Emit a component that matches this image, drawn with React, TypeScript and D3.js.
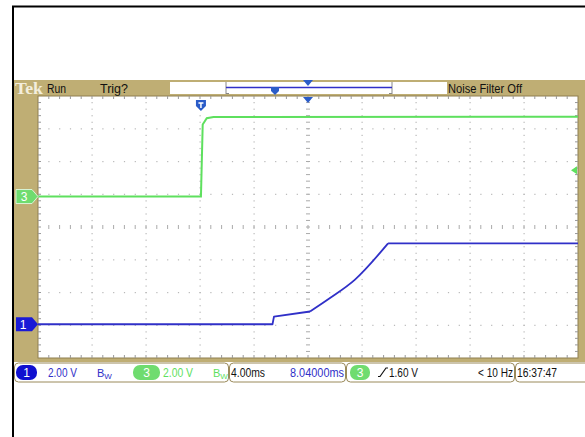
import React from "react";
import * as d3 from "d3";

// ---- data (ms from left screen edge, volts) ----
const ch1Times = [0, 17.37, 17.48, 20.15, 21.63, 23.48, 25.93, 40];
const ch1Volts = [0, 0, 0.47, 0.78, 1.6, 2.73, 4.94, 4.94];
const ch1RampStart = 3; // index where the smooth ramp begins
const ch1RampEnd = 6;   // index where the ramp meets the high level
const ch3Times = [0, 12.07, 12.2, 12.5, 13.0, 40];
const ch3Volts = [0, 0, 4.4, 4.78, 4.86, 4.88];
const ch1OffsetDiv = -2.97;
const ch3OffsetDiv = 0.93;
const voltsPerDiv = 2;
const timeDomain = [0, 40];
const hDivs = 10;
const vDivs = 8;
const trigLevel = 1.6;
const trigTime = 12.07;

const W = 585, H = 437;
const L = 38, R = 578, T = 96, B = 358;
const TAN = "#bfae74";
const BLUE = "#3030c8";
const GREEN = "#5ee05e";
const FONT = "'Liberation Sans Narrow','Liberation Sans',Arial,sans-serif";

const x = d3.scaleLinear().domain(timeDomain).range([L, R]);
const yDiv = d3.scaleLinear().domain([vDivs / 2, -vDivs / 2]).range([T, B]);
const yCh = (off: number) => (v: number) => yDiv(v / voltsPerDiv + off);
const y1 = yCh(ch1OffsetDiv);
const y3 = yCh(ch3OffsetDiv);

const idx1 = ch1Times.map((_, i) => i);
const lin1 = d3.line<number>().x((i) => x(ch1Times[i])).y((i) => y1(ch1Volts[i]));
const mono1 = d3.line<number>().x((i) => x(ch1Times[i])).y((i) => y1(ch1Volts[i])).curve(d3.curveMonotoneX);
const line1a = lin1(idx1.slice(0, ch1RampStart + 1)) || "";
const line1b = mono1(idx1.slice(ch1RampStart, ch1RampEnd + 1)) || "";
const line1c = lin1(idx1.slice(ch1RampEnd)) || "";
const line3 = d3.line<number>().x((_, i) => x(ch3Times[i])).y((v) => y3(v))(ch3Volts) || "";

function Txt(p: { x: number; y: number; w: number; s: string; fill?: string; size?: number }) {
  return (
    <text x={p.x} y={p.y} fontFamily={FONT} fontSize={p.size || 12} fill={p.fill || "#111"}
      textLength={p.w} lengthAdjust="spacingAndGlyphs">{p.s}</text>
  );
}

export default function App() {
  const dx = (R - L) / hDivs;
  const dy = (B - T) / vDivs;
  const grid: JSX.Element[] = [];
  for (let k = 1; k < hDivs; k++) {
    const gx = L + k * dx;
    if (k === hDivs / 2) continue;
    for (let j = 1; j < vDivs * 5; j++) {
      grid.push(<rect key={`vd${k}-${j}`} x={gx - 0.5} y={T + j * dy / 5 - 0.5} width={1.2} height={1.2} fill="#b8b8b8" />);
    }
  }
  for (let k = 1; k < vDivs; k++) {
    const gy = T + k * dy;
    if (k === vDivs / 2) continue;
    for (let j = 1; j < hDivs * 5; j++) {
      grid.push(<rect key={`hd${k}-${j}`} x={L + j * dx / 5 - 0.5} y={gy - 0.5} width={1.2} height={1.2} fill="#b8b8b8" />);
    }
  }
  const cx = L + dx * hDivs / 2, cy = T + dy * vDivs / 2;
  for (let j = 1; j < vDivs * 5; j++) {
    const ty = T + j * dy / 5;
    grid.push(<line key={`cv${j}`} x1={cx - 2} x2={cx + 2} y1={ty} y2={ty} stroke="#aaa" strokeWidth={1} />);
  }
  for (let j = 1; j < hDivs * 5; j++) {
    const tx = L + j * dx / 5;
    grid.push(<line key={`ch${j}`} x1={tx} x2={tx} y1={cy - 2} y2={cy + 2} stroke="#aaa" strokeWidth={1} />);
  }
  for (let j = 1; j < hDivs * 5; j++) {
    const tx = L + j * dx / 5;
    grid.push(<line key={`et${j}`} x1={tx} x2={tx} y1={T} y2={T + 3} stroke="#999" />);
    grid.push(<line key={`eb${j}`} x1={tx} x2={tx} y1={B} y2={B - 3} stroke="#999" />);
  }
  for (let j = 1; j < vDivs * 5; j++) {
    const ty = T + j * dy / 5;
    grid.push(<line key={`el${j}`} x1={L} x2={L + 3} y1={ty} y2={ty} stroke="#999" />);
    grid.push(<line key={`er${j}`} x1={R} x2={R - 3} y1={ty} y2={ty} stroke="#999" />);
  }

  const g3 = y3(0), g1 = y1(0);
  const tl = y3(trigLevel);
  const tx = x(trigTime);

  return (
    <svg width={W} height={H} style={{ position: "absolute", left: 0, top: 0 }}>
      <rect x={0} y={0} width={W} height={H} fill="#fff" />
      <line x1={12} x2={W} y1={6.5} y2={6.5} stroke="#000" strokeWidth={2} />
      <line x1={13} x2={13} y1={6} y2={H} stroke="#000" strokeWidth={2} />
      <rect x={14} y={80} width={W - 14} height={283} fill={TAN} />
      <rect x={L} y={T} width={R - L} height={B - T} fill="#fff" stroke="#8f7f4f" strokeWidth={1} />
      {grid}
      <text x={15} y={94} fontFamily="'Liberation Serif','DejaVu Serif',serif" fontWeight="bold" fontSize={17}
        fill="#f3eedd" textLength={28} lengthAdjust="spacingAndGlyphs">Tek</text>
      <Txt x={47} y={93} w={19} s="Run" />
      <Txt x={100} y={93} w={28} s="Trig?" />
      <rect x={170} y={82} width={277} height={12} fill="#fff" />
      <line x1={226} x2={226} y1={82} y2={94} stroke="#888" />
      <line x1={392} x2={392} y1={82} y2={94} stroke="#888" />
      <line x1={226} x2={229} y1={93.5} y2={93.5} stroke="#888" />
      <line x1={389} x2={392} y1={93.5} y2={93.5} stroke="#888" />
      <line x1={226} x2={392} y1={87.5} y2={87.5} stroke={BLUE} strokeWidth={1.5} />
      <path d="M271,87 L279,87 L279,91 L275,95 L271,91 Z" fill="#2a5cc8" />
      <path d="M303,80 L313,80 L308,86 Z" fill="#2a5cc8" />
      <Txt x={448} y={93} w={74} s="Noise Filter Off" />
      <path d={`M${cx - 5},${T + 1} L${cx + 5},${T + 1} L${cx},${T + 7} Z`} fill="#2a5cc8" />
      <path d={`M${tx - 5},${T + 4} L${tx + 5},${T + 4} L${tx + 5},${T + 10} L${tx},${T + 15} L${tx - 5},${T + 10} Z`} fill="#2a5cc8" />
      <path d={`M${tx - 2.5},${T + 7} L${tx + 2.5},${T + 7} M${tx},${T + 7} L${tx},${T + 12}`} stroke="#fff" strokeWidth={1.5} />
      <path d={line3} fill="none" stroke={GREEN} strokeWidth={2} />
      <path d={line1a} fill="none" stroke={BLUE} strokeWidth={1.8} strokeLinejoin="round" />
      <path d={line1b} fill="none" stroke={BLUE} strokeWidth={1.8} strokeLinejoin="round" />
      <path d={line1c} fill="none" stroke={BLUE} strokeWidth={1.8} strokeLinejoin="round" />
      <path d={`M16,${g3 - 7} L32,${g3 - 7} L38,${g3} L32,${g3 + 7} L16,${g3 + 7} Z`} fill="#6fdc6f" stroke="#d8f5d8" strokeWidth={1} />
      <text x={24} y={g3 + 4.5} fontFamily={FONT} fontSize={12} fill="#fff" textAnchor="middle">3</text>
      <path d={`M16,${g1 - 7} L32,${g1 - 7} L38,${g1} L32,${g1 + 7} L16,${g1 + 7} Z`} fill="#1a1ad6" />
      <text x={23} y={g1 + 4.5} fontFamily={FONT} fontSize={12} fill="#fff" textAnchor="middle">1</text>
      <path d={`M${R - 7},${tl} L${R - 1},${tl - 4} L${R - 1},${tl + 4} Z`} fill={GREEN} />
      <rect x={14} y={362} width={W - 14} height={21} fill="#fff" />
      <rect x={14.5} y={363} width={214} height={19} rx={4} fill="#fff" stroke="#9a8a5a" />
      <rect x={229.5} y={363} width={116} height={19} rx={4} fill="#fff" stroke="#9a8a5a" />
      <rect x={346.5} y={363} width={168} height={19} rx={4} fill="#fff" stroke="#9a8a5a" />
      <rect x={515.5} y={363} width={75} height={19} rx={4} fill="#fff" stroke="#9a8a5a" />
      <rect x={16} y={365} width={21} height={15} rx={7} fill="#1010d0" />
      <text x={26.5} y={377} fontFamily={FONT} fontSize={12} fill="#fff" textAnchor="middle">1</text>
      <Txt x={48} y={377} w={29} s="2.00 V" fill={BLUE} />
      <text x={97} y={377} fontFamily={FONT} fontSize={11} fill={BLUE}>B<tspan fontSize={8} dy={2}>W</tspan></text>
      <rect x={133} y={365} width={27} height={15} rx={7} fill="#6fdc6f" />
      <text x={146.5} y={377} fontFamily={FONT} fontSize={12} fill="#fff" textAnchor="middle">3</text>
      <Txt x={163} y={377} w={30} s="2.00 V" fill={GREEN} />
      <text x={213} y={377} fontFamily={FONT} fontSize={11} fill={GREEN}>B<tspan fontSize={8} dy={2}>W</tspan></text>
      <Txt x={231} y={377} w={34} s="4.00ms" />
      <Txt x={290} y={377} w={54} s="8.04000ms" fill={BLUE} />
      <rect x={350} y={365} width={20} height={15} rx={7} fill="#6fdc6f" />
      <text x={360} y={377} fontFamily={FONT} fontSize={12} fill="#fff" textAnchor="middle">3</text>
      <path d="M378,376.5 L380,376.5 L386,368 L388,368" fill="none" stroke="#111" strokeWidth={1.2} />
      <Txt x={389} y={377} w={29} s="1.60 V" />
      <Txt x={478} y={377} w={35} s="< 10 Hz" />
      <Txt x={517} y={377} w={40} s="16:37:47" />
    </svg>
  );
}
